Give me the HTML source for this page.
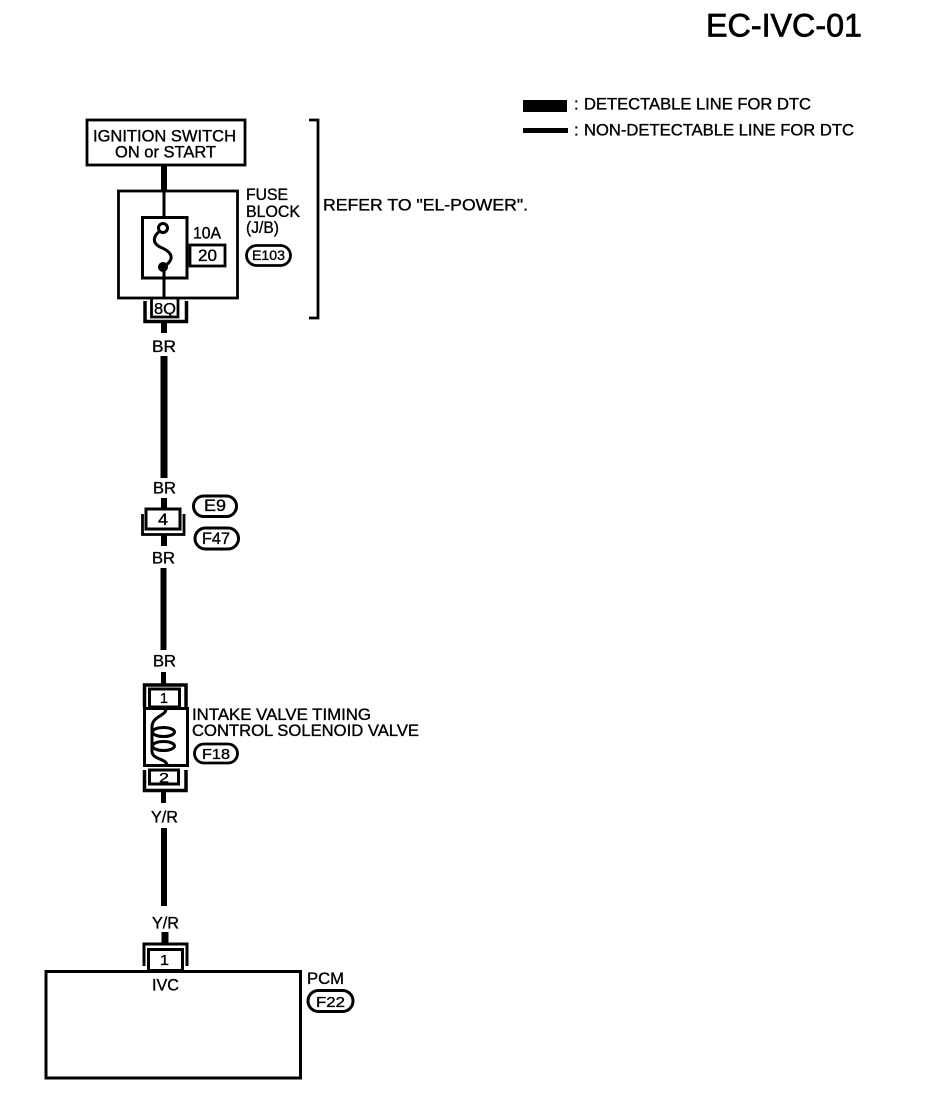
<!DOCTYPE html>
<html><head><meta charset="utf-8"><style>
html,body{margin:0;padding:0;background:#fff}
svg{display:block}
text{font-family:"Liberation Sans",sans-serif;fill:#000;stroke:#000;stroke-width:.35px}
</style></head><body>
<svg width="928" height="1104" viewBox="0 0 928 1104" xmlns="http://www.w3.org/2000/svg">
<g font-size="16.500">
<text x="706" y="36.500" font-size="32" textLength="156" lengthAdjust="spacingAndGlyphs" style="stroke-width:.7px">EC-IVC-01</text>
<text x="574" y="109.500">:</text>
<text x="584" y="109.500" textLength="227" lengthAdjust="spacingAndGlyphs">DETECTABLE LINE FOR DTC</text>
<text x="574" y="135.500">:</text>
<text x="584" y="135.500" textLength="270" lengthAdjust="spacingAndGlyphs">NON-DETECTABLE LINE FOR DTC</text>
<text x="93" y="141.500" textLength="143" lengthAdjust="spacingAndGlyphs">IGNITION SWITCH</text>
<text x="115" y="157.500" textLength="101" lengthAdjust="spacingAndGlyphs">ON or START</text>
<text x="246" y="200" textLength="42" lengthAdjust="spacingAndGlyphs">FUSE</text>
<text x="246" y="217" textLength="54" lengthAdjust="spacingAndGlyphs">BLOCK</text>
<text x="246" y="233" textLength="33" lengthAdjust="spacingAndGlyphs">(J/B)</text>
<text x="193" y="238.500" textLength="28" lengthAdjust="spacingAndGlyphs">10A</text>
<text x="198" y="261" textLength="19" lengthAdjust="spacingAndGlyphs">20</text>
<text x="252" y="260" font-size="14" textLength="33" lengthAdjust="spacingAndGlyphs">E103</text>
<text x="323" y="210.500" textLength="205" lengthAdjust="spacingAndGlyphs">REFER TO "EL-POWER".</text>
<text x="154" y="314" font-size="16" textLength="22" lengthAdjust="spacingAndGlyphs">8Q</text>
<text x="152" y="352" textLength="24" lengthAdjust="spacingAndGlyphs">BR</text>
<text x="153" y="493.500" textLength="23" lengthAdjust="spacingAndGlyphs">BR</text>
<text x="158" y="525" textLength="10" lengthAdjust="spacingAndGlyphs">4</text>
<text x="204" y="511" textLength="22" lengthAdjust="spacingAndGlyphs">E9</text>
<text x="202" y="544" textLength="28" lengthAdjust="spacingAndGlyphs">F47</text>
<text x="152" y="563.500" textLength="23" lengthAdjust="spacingAndGlyphs">BR</text>
<text x="153" y="666.500" textLength="23" lengthAdjust="spacingAndGlyphs">BR</text>
<text x="160" y="703" font-size="15" textLength="8" lengthAdjust="spacingAndGlyphs">1</text>
<text x="159" y="782.500" font-size="14" textLength="10" lengthAdjust="spacingAndGlyphs">2</text>
<text x="192" y="720" textLength="179" lengthAdjust="spacingAndGlyphs">INTAKE VALVE TIMING</text>
<text x="192" y="736" textLength="227" lengthAdjust="spacingAndGlyphs">CONTROL SOLENOID VALVE</text>
<text x="202" y="759" font-size="15" textLength="28" lengthAdjust="spacingAndGlyphs">F18</text>
<text x="151" y="822.500" textLength="27" lengthAdjust="spacingAndGlyphs">Y/R</text>
<text x="152" y="928.500" textLength="27" lengthAdjust="spacingAndGlyphs">Y/R</text>
<text x="160" y="965" font-size="15" textLength="9" lengthAdjust="spacingAndGlyphs">1</text>
<text x="152" y="990.500" textLength="27" lengthAdjust="spacingAndGlyphs">IVC</text>
<text x="307" y="984" textLength="37" lengthAdjust="spacingAndGlyphs">PCM</text>
<text x="316" y="1007" font-size="15" textLength="29" lengthAdjust="spacingAndGlyphs">F22</text>
</g>

<!-- legend -->
<rect x="523" y="100" width="44" height="12"/>
<rect x="523" y="128" width="45" height="5"/>

<g fill="none" stroke="#000" stroke-width="2.800">
<rect x="87" y="120" width="158" height="45"/>
<rect x="118.500" y="191" width="119" height="107"/>
<rect x="142.500" y="217.500" width="44.500" height="60.500" stroke-width="3"/>
<rect x="190" y="245" width="35" height="21"/>
<circle cx="163" cy="228" r="4.500" stroke-width="3"/>
<path d="M160 231 C153 236 152 243 160 247 C170 251 173 256 170 261 C168 264 165 266 163 268" stroke-width="3"/>
<path d="M309 120 H318 V318 H309"/>
<rect x="246.500" y="245.500" width="44" height="20" rx="10"/>

<!-- 8Q -->
<path d="M151.500 299 V317 H178 V299"/>
<path d="M145 301 V321.500 H186.500 V301" stroke-width="3.500"/>

<!-- 4 -->
<rect x="146" y="509" width="34" height="20" stroke-width="3"/>
<path d="M142.500 514 V534.500 H184 V514" stroke-width="2.800"/>
<rect x="193.500" y="496" width="43" height="20.500" rx="10.200" stroke-width="3"/>
<rect x="195" y="528" width="43.500" height="21" rx="10.500" stroke-width="3"/>

<!-- solenoid -->
<path d="M144.500 707 V685 H186 V707" stroke-width="3.500"/>
<rect x="149.500" y="689" width="30" height="18" stroke-width="3"/>
<rect x="144.500" y="708.500" width="43" height="57" stroke-width="3"/>
<path d="M166 709 C166 716 152 716 152 727 L152 751 C152 760 166 758 167 765" stroke-width="3"/>
<ellipse cx="163.500" cy="732" rx="11" ry="4.500" stroke-width="3"/>
<ellipse cx="163.500" cy="746" rx="11" ry="4.500" stroke-width="3"/>
<rect x="149.500" y="770" width="29" height="14" stroke-width="3"/>
<path d="M144.500 770 V790.500 H186 V770" stroke-width="3.500"/>
<rect x="194.500" y="744" width="43" height="19" rx="9.500"/>

<!-- PCM -->
<path d="M144 966 V944 H187 V966" stroke-width="3"/>
<rect x="148.500" y="949.500" width="34" height="21" stroke-width="3"/>
<rect x="46" y="971.500" width="254.500" height="106.500" stroke-width="3"/>
<rect x="308" y="990.500" width="45" height="21" rx="10.500" stroke-width="3"/>
</g>

<!-- wires -->
<g fill="#000">
<rect x="161" y="165" width="6" height="25"/>
<rect x="162.500" y="190" width="3" height="28"/>
<circle cx="163" cy="267" r="5"/>
<rect x="162.500" y="268" width="3" height="30"/>
<rect x="161" y="322" width="6" height="11"/>
<rect x="160.500" y="356" width="7" height="122"/>
<rect x="161" y="498" width="6" height="11"/>
<rect x="161" y="535" width="6" height="11"/>
<rect x="160.500" y="568" width="6" height="82"/>
<rect x="161" y="672" width="5" height="13"/>
<rect x="161" y="791" width="5" height="12"/>
<rect x="161" y="828" width="6" height="78"/>
<rect x="161.500" y="932" width="7" height="11"/>
</g>
</svg>
</body></html>
